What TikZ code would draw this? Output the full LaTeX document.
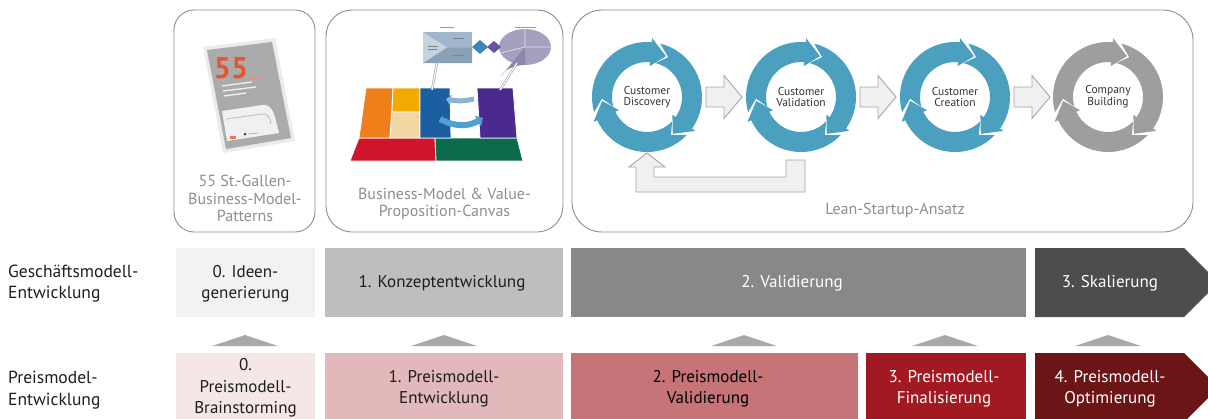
\documentclass[tikz,border=0pt]{standalone}
\usepackage{fontspec}
\setmainfont{PT Sans}
\usetikzlibrary{calc,arrows.meta}
\definecolor{boxline}{HTML}{8C8C8C}
\definecolor{lbl}{HTML}{8E8E8E}
\definecolor{ringblue}{HTML}{4BA0C0}
\definecolor{ringgray}{HTML}{9E9E9E}
\definecolor{arrfill}{HTML}{F0F0F0}
\definecolor{arrline}{HTML}{A6A6A6}
\definecolor{gA}{HTML}{F2F2F2}
\definecolor{gB}{HTML}{BDBEC0}
\definecolor{gC}{HTML}{87888A}
\definecolor{gD}{HTML}{4D4D4F}
\definecolor{pA}{HTML}{F5E6E7}
\definecolor{pB}{HTML}{E3B8BA}
\definecolor{pC}{HTML}{C67478}
\definecolor{pD}{HTML}{A11A22}
\definecolor{pE}{HTML}{6C1517}
\definecolor{trigray}{HTML}{A8A8A8}
\definecolor{txtdark}{HTML}{1E1E1E}
\definecolor{cvred}{HTML}{D2132C}
\definecolor{cvgreen}{HTML}{0B6B4B}
\definecolor{cvorange}{HTML}{EE7F1A}
\definecolor{cvyellow}{HTML}{F2A900}
\definecolor{cvtan}{HTML}{F3D7A3}
\definecolor{cvblue}{HTML}{1B5FA0}
\definecolor{cvpurple}{HTML}{4B2A90}
\definecolor{cvlight}{HTML}{8CB4D2}
\definecolor{cvlight2}{HTML}{4F9FD0}
\definecolor{cvmap}{HTML}{9FB6CC}
\definecolor{cvmaplt}{HTML}{C5D3E0}
\definecolor{cvmapdk}{HTML}{8AA0B5}
\definecolor{cvprof}{HTML}{A59FC0}
\definecolor{cvprofdk}{HTML}{8E86AE}
\definecolor{cvdia}{HTML}{3F86B8}
\definecolor{cvdiap}{HTML}{6B4FA0}
\definecolor{bookgray}{HTML}{ABABAB}
\definecolor{orange55}{HTML}{E4572E}
\newcommand\ringarrow[2]{%
  \fill[#2] (#1:55) arc[start angle=#1, end angle=#1-111, radius=55]
    -- (#1-111:59) -- (#1-131:45) -- (#1-111:31) -- (#1-111:35)
    arc[start angle=#1-111, end angle=#1, radius=35] -- (#1-14:45) -- cycle;}
\newcommand\fullring[2]{%
  \begin{scope}[shift={(#1.center)},yscale=-1]
    \ringarrow{76}{#2}\ringarrow{-44}{#2}\ringarrow{196}{#2}
  \end{scope}}
\newcommand\blkarrow[1]{%
  \begin{scope}[shift={(#1.center)}]
    \draw[blockarrow] (59,-10) -- (77,-10) -- (77,-21.5) -- (95,0) -- (77,21.5) -- (77,10) -- (59,10) -- cycle;
  \end{scope}}
\begin{document}
\begin{tikzpicture}[x=1pt,y=-1pt,
  topbox/.style={draw=boxline, line width=0.9pt, inner sep=0pt},
  toplabel/.style={text=lbl, font=\fontsize{16}{17.7}\selectfont, align=center},
  circtext/.style={text=black!80, font=\fontsize{11.5}{11.8}\selectfont, align=center, inner sep=0pt},
  blockarrow/.style={draw=arrline, fill=arrfill, line width=0.9pt, line join=miter},
  rowbox/.style={minimum height=69pt, inner sep=0pt, align=center},
  rowtext/.style={align=center, inner sep=0pt, font=\fontsize{17}{21}\selectfont},
  rowlabel/.style={anchor=west, align=left, text=txtdark, inner sep=0pt, font=\fontsize{17.5}{21.5}\selectfont},
  tri/.style={fill=trigray}]
\useasboundingbox (0,0) rectangle (1208,418);
\clip (0,0) rectangle (1208,418);

% ---------- top frames ----------
\node[topbox, rounded corners=20pt, minimum width=141pt, minimum height=222pt] (tb1) at (244.5,121) {};
\node[topbox, rounded corners=26pt, minimum width=237pt, minimum height=222pt] (tb2) at (444.5,121) {};
\node[topbox, rounded corners=30pt, minimum width=621pt, minimum height=222pt] (tb3) at (882.5,121) {};

\node[toplabel] (l1) at (245,198.5) {55 St.-Gallen-\\Business-Model-\\Patterns};
\node[toplabel] (l2) at (444.5,204) {Business-Model \& Value-\\Proposition-Canvas};
\node[toplabel] (l3) at (895,210.5) {Lean-Startup-Ansatz};

% ---------- book picture ----------
\fill[black!8] (203,47) -- (275,38) -- (295,141) -- (223,153) -- cycle;
\fill[bookgray] (207,50) -- (272,42) -- (291,138) -- (226,149) -- cycle;
\node[text=orange55, font=\bfseries\fontsize{30}{30}\selectfont, inner sep=0pt] (n55) at (231,68) {55};
\draw[orange55!70, line width=1pt] (249,79) -- (259,78);
\draw[white!90!gray, line width=1.3pt] (222,86) -- (252,82);
\draw[white!90!gray, line width=1.3pt] (223,91) -- (256,87);
\draw[white!90!gray, line width=1.3pt] (224,96) -- (246,93);
\fill[white!88!gray] (222,111) -- (262,105) .. controls (270,104) and (273,110) .. (275,117) -- (279,133) -- (227,141) -- cycle;
\draw[bookgray!80, line width=0.8pt] (226,119) -- (262,114);
\draw[bookgray!80, line width=0.8pt] (262,114) .. controls (268,113) and (270,118) .. (271,124);
\fill[orange55!80] (230,136) rectangle (236,139);
\fill[green!45!black] (245,134) circle (1.5);
\draw[black!35, line width=0.6pt] (248,134) -- (258,133);

% ---------- canvas picture ----------
\begin{scope}[draw=white, line width=0.8pt]
\filldraw[fill=cvred] (359,138) -- (435,138) -- (436,161) -- (350,161) -- cycle;
\filldraw[fill=cvgreen] (435,138) -- (517,138) -- (523,161) -- (436,161) -- cycle;
\filldraw[fill=cvorange] (366,88) -- (393,88) -- (390,138) -- (359,138) -- cycle;
\filldraw[fill=cvyellow] (393,88) -- (420,88) -- (420,112) -- (392,112) -- cycle;
\filldraw[fill=cvtan] (392,112) -- (420,112) -- (420,138) -- (390,138) -- cycle;
\filldraw[fill=cvblue] (420,88) -- (450,88) -- (451,138) -- (420,138) -- cycle;
\filldraw[fill=cvpurple] (477,88) -- (513,88) -- (517,138) -- (480,138) -- cycle;
\end{scope}
\draw[cvlight, line width=5pt, -{Triangle[length=5pt,width=10pt]}] (474,99) to[bend left=12] (446,99);
\draw[cvlight2, line width=6pt, -{Triangle[length=6pt,width=12pt]}] (440,119) to[bend right=30] (483,118);
\fill[cvmap] (423,32) rectangle (472,63);
\fill[cvmapdk] (447,47.5) -- (472,47.5) -- (472,63) -- (423,63) -- cycle;
\fill[cvmaplt] (423,32) -- (447,47.5) -- (423,63) -- cycle;
\draw[black!50, line width=0.6pt] (453,38) -- (464,38) (453,55) -- (464,55) (428,46) -- (438,46) (428,49) -- (437,49);
\fill[cvprof] (525,47) ellipse [x radius=26, y radius=18];
\fill[cvprofdk] (525,47) -- (525,65) arc[start angle=270, end angle=200, x radius=26, y radius=18] -- cycle;
\draw[white!80!gray, line width=0.7pt] (525,47) -- (525,29) (525,47) -- (551,47) (525,47) -- (501,53);
\fill[cvdia] (472,47) -- (480,40) -- (488,47) -- (480,54) -- cycle;
\fill[cvdiap] (487,47) -- (494,41) -- (501,47) -- (494,53) -- cycle;
\draw[black!45, double=white, double distance=1.2pt, line width=0.5pt] (437,63) -- (432,90);
\draw[black!45, double=white, double distance=1.2pt, line width=0.5pt] (517,63) -- (500,90);
\draw[black!40, line width=0.6pt] (440,27) -- (454,27) (515,27) -- (536,27);

% ---------- lean startup cycles ----------
\node[circtext] (c1) at (647,97) {Customer\\Discovery};
\node[circtext] (c2) at (801,97) {Customer\\Validation};
\node[circtext] (c3) at (955,97) {Customer\\Creation};
\node[circtext] (c4) at (1108,97) {Company\\Building};
\fullring{c1}{ringblue}
\fullring{c2}{ringblue}
\fullring{c3}{ringblue}
\fullring{c4}{ringgray}
\blkarrow{c1}
\blkarrow{c2}
\blkarrow{c3}
\draw[blockarrow] ($(c2)+(4,63)$) -- ($(c2)+(4,95)$) -- ($(c1)+(-11,95)$) -- ($(c1)+(-11,70)$)
  -- ($(c1)+(-18,70)$) -- ($(c1)+(0,56)$) -- ($(c1)+(18,70)$) -- ($(c1)+(7,70)$)
  -- ($(c1)+(7,80)$) -- ($(c2)+(-15,80)$) -- ($(c2)+(-15,63)$) -- cycle;

% ---------- row labels ----------
\node[rowlabel] (rl1) at (8,283.5) {Geschäftsmodell-\\Entwicklung};
\node[rowlabel] (rl2) at (8,390) {Preismodel-\\Entwicklung};

% ---------- row 1 ----------
\node[rowbox, fill=gA, minimum width=139pt] (g0) at (245.5,282.5) {};
\node[rowtext, text=txtdark] (g0t) at (245.5,283.5) {0. Ideen-\\generierung};
\node[rowbox, fill=gB, minimum width=238pt] (g1) at (444,282.5) {};
\node[rowtext, text=txtdark] (g1t) at (442,283) {1. Konzeptentwicklung};
\node[rowbox, fill=gC, minimum width=455pt] (g2) at (798.5,282.5) {};
\node[rowtext, text=white] (g2t) at (792,283) {2. Validierung};
\fill[gD] (1035,248) -- (1184,248) -- (1218.5,282.5) -- (1184,317) -- (1035,317) -- cycle;
\node[rowtext, text=white] (g3) at (1110,283) {3. Skalierung};

% ---------- triangles ----------
\foreach \cx in {245,444,744,945,1108}
  \fill[tri] (\cx-33,346) -- (\cx,335) -- (\cx+33,346) -- cycle;

% ---------- row 2 ----------
\node[rowbox, fill=pA, minimum width=139pt] (p0) at (245.5,387.5) {};
\node[rowtext, text=txtdark, font=\fontsize{17}{21.5}\selectfont] (p0t) at (245.5,388) {0.\\Preismodell-\\Brainstorming};
\node[rowbox, fill=pB, minimum width=238pt] (p1) at (444,387.5) {};
\node[rowtext, text=txtdark] (p1t) at (444,389) {1. Preismodell-\\Entwicklung};
\node[rowbox, fill=pC, minimum width=287pt] (p2) at (714.5,387.5) {};
\node[rowtext, text=black] (p2t) at (708,389) {2. Preismodell-\\Validierung};
\node[rowbox, fill=pD, minimum width=160pt] (p3) at (946,387.5) {};
\node[rowtext, text=white] (p3t) at (944,389) {3. Preismodell-\\Finalisierung};
\fill[pE] (1035,353) -- (1184,353) -- (1218.5,387.5) -- (1184,422) -- (1035,422) -- cycle;
\node[rowtext, text=white] (p4) at (1110,389) {4. Preismodell-\\Optimierung};
\end{tikzpicture}
\end{document}
